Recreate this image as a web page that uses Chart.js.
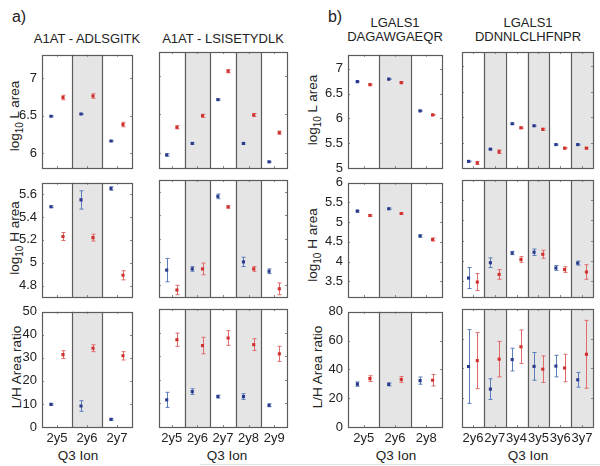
<!DOCTYPE html>
<html>
<head>
<meta charset="utf-8">
<script src="https://cdn.jsdelivr.net/npm/chart.js@4.4.0/dist/chart.umd.min.js"></script>
<style>
  body { margin: 0; width: 600px; height: 466px; background: #fff; position: relative; overflow: hidden;
         font-family: "Liberation Sans", Arial, sans-serif; color: #222; }
  .lbl { position: absolute; white-space: nowrap; transform: translate(-50%, -50%); text-align: center; }
  .ylbl { position: absolute; white-space: nowrap; transform: translate(-50%, -50%) rotate(-90deg); font-size: 13.5px; }
  .ylbl sub { font-size: 10px; }
  .wrap { position: absolute; }
</style>
</head>
<body>
<div class="lbl" style="left:19px;top:17px;font-size:16px">a)</div>
<div class="lbl" style="left:335px;top:17px;font-size:16px">b)</div>
<div class="lbl" style="left:87px;top:38px;font-size:13px">A1AT - ADLSGITK</div>
<div class="lbl" style="left:223px;top:38px;font-size:13px">A1AT - LSISETYDLK</div>
<div class="lbl" style="left:395px;top:29px;font-size:13px;line-height:13.5px">LGALS1<br>DAGAWGAEQR</div>
<div class="lbl" style="left:528px;top:29px;font-size:13px;line-height:13.5px">LGALS1<br>DDNNLCLHFNPR</div>

<div class="ylbl" style="left:16px;top:116px">log<sub>10</sub> L area</div>
<div class="ylbl" style="left:16px;top:238px">log<sub>10</sub> H area</div>
<div class="ylbl" style="left:16px;top:367px">L/H Area ratio</div>
<div class="ylbl" style="left:314px;top:110px">log<sub>10</sub> L area</div>
<div class="ylbl" style="left:314px;top:245px">log<sub>10</sub> H area</div>
<div class="ylbl" style="left:317px;top:367px">L/H Area ratio</div>

<div class="lbl" style="left:78px;top:455px;font-size:13.5px">Q3 Ion</div>
<div class="lbl" style="left:227px;top:455px;font-size:13.5px">Q3 Ion</div>
<div class="lbl" style="left:396px;top:455px;font-size:13.5px">Q3 Ion</div>
<div class="lbl" style="left:528px;top:455px;font-size:13.5px">Q3 Ion</div>
<div style="position:absolute;left:200px;top:464px;width:400px;height:1px;background:#e2e2e2"></div>

<script>
// Q3 ion categories
const ionsADL = ['2y5', '2y6', '2y7'];
const ionsLSI = ['2y5', '2y6', '2y7', '2y8', '2y9'];
const ionsDAG = ['2y5', '2y6', '2y8'];
const ionsDDN = ['2y6', '2y7', '3y4', '3y5', '3y6', '3y7'];

// y tick labels
const ticksA_L = [6, 6.5, 7];
const ticksA_H = [4.8, 5, 5.2, 5.4, 5.6];
const ticksA_R = [0, 10, 20, 30, 40, 50];
const ticksB_L = [5, 5.5, 6, 6.5, 7];
const ticksB_H = [3.5, 4, 4.5, 5, 5.5, 6];
const ticksB_R = [0, 20, 40, 60, 80];

// A1AT - ADLSGITK
const adlL_blue = [6.49, 6.52, 6.16];
const adlL_blueErr = [0.008, 0.008, 0.008];
const adlL_red = [6.74, 6.76, 6.38];
const adlL_redErr = [0.03, 0.03, 0.03];
const adlH_blue = [5.49, 5.55, 5.65];
const adlH_blueErr = [0.008, 0.08, 0.015];
const adlH_red = [5.23, 5.22, 4.89];
const adlH_redErr = [0.035, 0.03, 0.04];
const adlR_blue = [9.8, 9.1, 3.3];
const adlR_blueErr = [0.3, 2.3, 0.3];
const adlR_red = [31.4, 34.2, 30.9];
const adlR_redErr = [1.7, 1.5, 1.8];

// A1AT - LSISETYDLK
const lsiL_blue = [5.97, 6.12, 6.69, 6.12, 5.88];
const lsiL_blueErr = [0.015, 0.01, 0.008, 0.01, 0.008];
const lsiL_red = [6.33, 6.48, 7.06, 6.49, 6.26];
const lsiL_redErr = [0.02, 0.02, 0.02, 0.02, 0.02];
const lsiH_blue = [4.93, 4.94, 5.56, 5.00, 4.92];
const lsiH_blueErr = [0.10, 0.02, 0.02, 0.04, 0.02];
const lsiH_red = [4.76, 4.94, 5.47, 4.94, 4.77];
const lsiH_redErr = [0.04, 0.05, 0.01, 0.02, 0.05];
const lsiR_blue = [11.5, 15.0, 12.9, 12.9, 9.2];
const lsiR_blueErr = [3.2, 1.2, 0.6, 1.2, 0.6];
const lsiR_red = [37.0, 34.5, 37.7, 34.9, 31.0];
const lsiR_redErr = [2.8, 3.5, 3.1, 2.5, 3.2];

// LGALS1 DAGAWGAEQR
const dagL_blue = [6.74, 6.79, 6.15];
const dagL_blueErr = [0.008, 0.008, 0.008];
const dagL_red = [6.68, 6.72, 6.07];
const dagL_redErr = [0.01, 0.01, 0.01];
const dagH_blue = [5.28, 5.34, 4.65];
const dagH_blueErr = [0.02, 0.02, 0.03];
const dagH_red = [5.17, 5.22, 4.56];
const dagH_redErr = [0.02, 0.02, 0.04];
const dagR_blue = [29.8, 29.6, 32.2];
const dagR_blueErr = [1.5, 1.0, 2.5];
const dagR_red = [33.6, 33.0, 32.5];
const dagR_redErr = [2.0, 2.0, 4.0];

// LGALS1 DDNNLCLHFNPR
const ddnL_blue = [5.13, 5.37, 5.87, 5.83, 5.46, 5.46];
const ddnL_blueErr = [0.01, 0.01, 0.015, 0.01, 0.01, 0.01];
const ddnL_red = [5.10, 5.32, 5.79, 5.76, 5.39, 5.39];
const ddnL_redErr = [0.03, 0.035, 0.015, 0.02, 0.015, 0.015];
const ddnH_blue = [3.57, 3.95, 4.19, 4.21, 3.82, 3.94];
const ddnH_blueErr = [0.26, 0.12, 0.04, 0.08, 0.06, 0.05];
const ddnH_red = [3.47, 3.66, 4.03, 4.16, 3.78, 3.72];
const ddnH_redErr = [0.21, 0.12, 0.07, 0.1, 0.07, 0.18];
const ddnR_blue = [41, 25.7, 45.7, 41.1, 41.3, 32];
const ddnR_blueErr = [25, 7, 7.7, 9.4, 7.3, 5];
const ddnR_red = [45, 46, 54.4, 39.2, 40, 49.3];
const ddnR_redErr = [19, 12, 11.4, 9, 9.3, 23];

const BLUE = '#2c3a8c', BLUE_ERR = '#5a7dbb';
const RED = '#d0312d', RED_ERR = '#e26a6a';
const SHADE = '#e5e5e5', EDGE = '#5c5c5c';

// shading, dividers, tick marks and error bars
const panelDecor = {
  id: 'panelDecor',
  beforeDatasetsDraw(chart) {
    const { ctx, chartArea: a, scales: { x, y } } = chart;
    const n = chart.options.plugins.panelDecor.n;
    ctx.save();
    for (let i = 2; i <= n; i += 2) {
      const x0 = x.getPixelForValue(i - 0.5), x1 = x.getPixelForValue(Math.min(i + 0.5, n + 0.5));
      ctx.fillStyle = SHADE;
      ctx.fillRect(x0, a.top, x1 - x0, a.bottom - a.top);
    }
    ctx.strokeStyle = EDGE;
    ctx.lineWidth = 1.2;
    for (let i = 1; i < n; i++) {
      const px = Math.round(x.getPixelForValue(i + 0.5)) + 0.5;
      ctx.beginPath(); ctx.moveTo(px, a.top); ctx.lineTo(px, a.bottom); ctx.stroke();
    }
    // small inward ticks
    ctx.strokeStyle = '#888';
    ctx.lineWidth = 1;
    x.ticks.forEach(t => {
      const px = Math.round(x.getPixelForValue(t.value)) + 0.5;
      ctx.beginPath();
      ctx.moveTo(px, a.bottom); ctx.lineTo(px, a.bottom - 2);
      ctx.moveTo(px, a.top); ctx.lineTo(px, a.top + 2);
      ctx.stroke();
    });
    y.ticks.forEach(t => {
      const py = Math.round(y.getPixelForValue(t.value)) + 0.5;
      ctx.beginPath();
      ctx.moveTo(a.left, py); ctx.lineTo(a.left + 2, py);
      ctx.moveTo(a.right, py); ctx.lineTo(a.right - 2, py);
      ctx.stroke();
    });
    // error bars
    ctx.beginPath();
    ctx.rect(a.left, a.top, a.right - a.left, a.bottom - a.top);
    ctx.clip();
    chart.data.datasets.forEach(ds => {
      ctx.strokeStyle = ds.errColor;
      ctx.lineWidth = 1;
      ds.data.forEach(p => {
        const px = Math.round(x.getPixelForValue(p.x)) + 0.5;
        const yt = y.getPixelForValue(p.y + p.e), yb = y.getPixelForValue(p.y - p.e);
        ctx.beginPath();
        ctx.moveTo(px, yt); ctx.lineTo(px, yb);
        ctx.moveTo(px - 2, yt); ctx.lineTo(px + 2, yt);
        ctx.moveTo(px - 2, yb); ctx.lineTo(px + 2, yb);
        ctx.stroke();
      });
    });
    ctx.restore();
  },
  afterDatasetsDraw(chart) {
    const { ctx, chartArea: a } = chart;
    ctx.save();
    ctx.strokeStyle = EDGE;
    ctx.lineWidth = 1.2;
    ctx.strokeRect(Math.round(a.left) + 0.5, Math.round(a.top) + 0.5,
      Math.round(a.right - a.left), Math.round(a.bottom - a.top));
    ctx.restore();
  }
};

function points(vals, errs, shift) {
  return vals.map((v, i) => ({ x: i + 1 + shift, y: v, e: errs[i] }));
}

function makePanel(box, cats, yMin, yMax, yTicks, blue, blueErr, red, redErr, showY, showX) {
  const padL = 50, padT = 10, padR = 10, padB = 28;
  const w = box[2] - box[0] + padL + padR, h = box[3] - box[1] + padT + padB;
  const wrap = document.createElement('div');
  wrap.className = 'wrap';
  wrap.style.left = (box[0] - padL) + 'px';
  wrap.style.top = (box[1] - padT) + 'px';
  wrap.style.width = w + 'px';
  wrap.style.height = h + 'px';
  const canvas = document.createElement('canvas');
  canvas.width = w; canvas.height = h;
  canvas.style.width = w + 'px'; canvas.style.height = h + 'px';
  wrap.appendChild(canvas);
  document.body.appendChild(wrap);
  const font = { family: '"Liberation Sans", Arial, sans-serif', size: 13 };
  new Chart(canvas, {
    type: 'scatter',
    data: {
      datasets: [
        { data: points(blue, blueErr, -0.2), errColor: BLUE_ERR, backgroundColor: BLUE,
          pointStyle: 'rect', pointRadius: 2.2, pointBorderWidth: 0 },
        { data: points(red, redErr, 0.2), errColor: RED_ERR, backgroundColor: RED,
          pointStyle: 'rect', pointRadius: 2.2, pointBorderWidth: 0 }
      ]
    },
    options: {
      responsive: false,
      animation: false,
      events: [],
      layout: { padding: { left: 0, top: padT, right: padR, bottom: 0 } },
      plugins: { legend: { display: false }, tooltip: { enabled: false }, panelDecor: { n: cats.length } },
      scales: {
        x: {
          type: 'linear', min: 0.5, max: cats.length + 0.5,
          grid: { display: false, drawTicks: false }, border: { display: false },
          afterBuildTicks: s => { s.ticks = cats.map((c, i) => ({ value: i + 1 })); },
          afterFit: s => { s.height = padB; },
          ticks: { display: showX, autoSkip: false, maxRotation: 0, padding: 4, color: '#222', font,
                   callback: v => cats[Math.round(v) - 1] }
        },
        y: {
          min: yMin, max: yMax,
          grid: { display: false, drawTicks: false }, border: { display: false },
          afterBuildTicks: s => { s.ticks = yTicks.map(v => ({ value: v })); },
          afterFit: s => { s.width = padL; },
          ticks: { display: showY, padding: 5, color: '#222', font, callback: v => String(v) }
        }
      }
    },
    plugins: [panelDecor]
  });
}

// plot boxes [left, top, right, bottom]
const rowL = [52, 168], rowH = [180, 297], rowR = [309, 427];
const bx = (c, r) => [c[0], r[0], c[1], r[1]];

makePanel(bx([42, 132], rowL), ionsADL, 5.8, 7.31, ticksA_L, adlL_blue, adlL_blueErr, adlL_red, adlL_redErr, true, false);
makePanel(bx([159, 287], rowL), ionsLSI, 5.8, 7.31, ticksA_L, lsiL_blue, lsiL_blueErr, lsiL_red, lsiL_redErr, false, false);
makePanel(bx([348, 442], rowL), ionsDAG, 5, 7.28, ticksB_L, dagL_blue, dagL_blueErr, dagL_red, dagL_redErr, true, false);
makePanel(bx([462, 593], rowL), ionsDDN, 5, 7.28, ticksB_L, ddnL_blue, ddnL_blueErr, ddnL_red, ddnL_redErr, false, false);

makePanel(bx([42, 132], rowH), ionsADL, 4.7, 5.7, ticksA_H, adlH_blue, adlH_blueErr, adlH_red, adlH_redErr, true, false);
makePanel(bx([159, 287], rowH), ionsLSI, 4.7, 5.7, ticksA_H, lsiH_blue, lsiH_blueErr, lsiH_red, lsiH_redErr, false, false);
makePanel(bx([348, 442], rowH), ionsDAG, 3.1, 6, ticksB_H, dagH_blue, dagH_blueErr, dagH_red, dagH_redErr, true, false);
makePanel(bx([462, 593], rowH), ionsDDN, 3.1, 6, ticksB_H, ddnH_blue, ddnH_blueErr, ddnH_red, ddnH_redErr, false, false);

makePanel(bx([42, 132], rowR), ionsADL, 0, 50, ticksA_R, adlR_blue, adlR_blueErr, adlR_red, adlR_redErr, true, true);
makePanel(bx([159, 287], rowR), ionsLSI, 0, 50, ticksA_R, lsiR_blue, lsiR_blueErr, lsiR_red, lsiR_redErr, false, true);
makePanel(bx([348, 442], rowR), ionsDAG, 0, 80, ticksB_R, dagR_blue, dagR_blueErr, dagR_red, dagR_redErr, true, true);
makePanel(bx([462, 593], rowR), ionsDDN, 0, 80, ticksB_R, ddnR_blue, ddnR_blueErr, ddnR_red, ddnR_redErr, false, true);
</script>
</body>
</html>
